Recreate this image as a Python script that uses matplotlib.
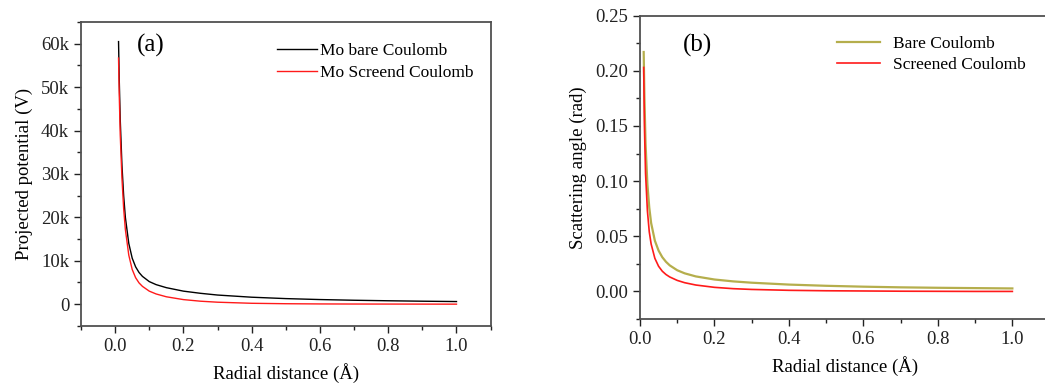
import matplotlib.pyplot as plt
from matplotlib.ticker import AutoMinorLocator, FuncFormatter

plt.rcParams['font.family'] = ['Liberation Serif', 'DejaVu Serif']

# radial sample positions (Angstrom)
r = [0.01, 0.012, 0.015, 0.02, 0.025, 0.03, 0.04, 0.05, 0.06, 0.07, 0.08, 0.1,
     0.12, 0.15, 0.2, 0.25, 0.3, 0.4, 0.5, 0.6, 0.7, 0.8, 0.9, 1.0]

# projected potential (V)
pot_bare = [60500, 52000, 42500, 32000, 25000, 20000, 14000, 10600, 8600, 7300,
            6400, 5200, 4500, 3800, 3000, 2500, 2100, 1600, 1280, 1060, 900, 780,
            680, 600]
pot_screened = [56700, 48500, 39000, 29000, 22000, 17200, 11300, 8000, 6100, 4900,
                4100, 3000, 2350, 1700, 1050, 680, 450, 200, 100, 50, 30, 20, 10, 0]

# scattering angle (rad)
ang_bare = [0.217, 0.176, 0.134, 0.097, 0.076, 0.062, 0.046, 0.037, 0.031, 0.0268,
            0.0236, 0.0192, 0.0164, 0.0136, 0.0108, 0.0091, 0.0079, 0.0062, 0.0051,
            0.0043, 0.0037, 0.0033, 0.0030, 0.0027]
ang_screened = [0.203, 0.15, 0.107, 0.073, 0.054, 0.043, 0.030, 0.0228, 0.0183,
                0.0153, 0.0131, 0.0100, 0.0079, 0.0058, 0.0037, 0.0025, 0.0018,
                0.0010, 0.0006, 0.0004, 0.0002, 0.0001, 0.0, 0.0]

fig = plt.figure(figsize=(10.45, 3.87), dpi=100)
ax1 = fig.add_axes([0.0775, 0.158, 0.392, 0.785])
ax2 = fig.add_axes([0.6124, 0.1757, 0.392, 0.784])

spine_col = '#505050'
for ax in (ax1, ax2):
    for s in ax.spines.values():
        s.set_color(spine_col)
        s.set_linewidth(1.3)
    ax.tick_params(which='both', direction='out', top=False, right=False,
                   colors='#222222', labelsize=13.5, width=1.0)
    ax.tick_params(which='major', length=5)
    ax.tick_params(which='minor', length=3)
    ax.xaxis.set_minor_locator(AutoMinorLocator(2))
    ax.yaxis.set_minor_locator(AutoMinorLocator(2))

# (a) projected potential
ax1.plot(r, pot_bare, color='black', lw=1.0, label='Mo bare Coulomb')
ax1.plot(r, pot_screened, color='#ff1a1a', lw=1.0, label='Mo Screend Coulomb')
ax1.set_xlim(-0.1, 1.1)
ax1.set_ylim(-5000, 65000)
ax1.set_xticks([0.0, 0.2, 0.4, 0.6, 0.8, 1.0])
ax1.set_yticks([0, 10000, 20000, 30000, 40000, 50000, 60000])
ax1.yaxis.set_major_formatter(FuncFormatter(lambda v, p: '0' if v == 0 else '%dk' % (v / 1000)))
ax1.set_xlabel('Radial distance (Å)', fontsize=13.5, labelpad=6)
ax1.set_ylabel('Projected potential (V)', fontsize=13.5, labelpad=6)
ax1.text(0.171, 0.924, '(a)', transform=ax1.transAxes, fontsize=18,
         ha='center', va='center')
ax1.legend(loc='upper left', bbox_to_anchor=(0.478, 0.93), frameon=False,
           borderpad=0, borderaxespad=0, fontsize=12.5, handlelength=2.3,
           handletextpad=0.2, labelspacing=0.3)

# (b) scattering angle
ax2.plot(r, ang_bare, color='#b5ae4c', lw=1.6, label='Bare Coulomb')
ax2.plot(r, ang_screened, color='#ff1a1a', lw=1.2, label='Screened Coulomb')
ax2.set_xlim(0.0, 1.1)
ax2.set_ylim(-0.025, 0.25)
ax2.set_xticks([0.0, 0.2, 0.4, 0.6, 0.8, 1.0])
ax2.set_yticks([0.0, 0.05, 0.10, 0.15, 0.20, 0.25])
ax2.yaxis.set_major_formatter(FuncFormatter(lambda v, p: '%.2f' % v))
ax2.set_xlabel('Radial distance (Å)', fontsize=13.5, labelpad=6)
ax2.set_ylabel('Scattering angle (rad)', fontsize=13.5, labelpad=6)
ax2.text(0.1416, 0.903, '(b)', transform=ax2.transAxes, fontsize=18,
         ha='center', va='center')
ax2.legend(loc='upper left', bbox_to_anchor=(0.481, 0.933), frameon=False,
           borderpad=0, borderaxespad=0, fontsize=12.5, handlelength=2.5,
           handletextpad=0.75, labelspacing=0.3)

fig.savefig('out.png', dpi=100)
